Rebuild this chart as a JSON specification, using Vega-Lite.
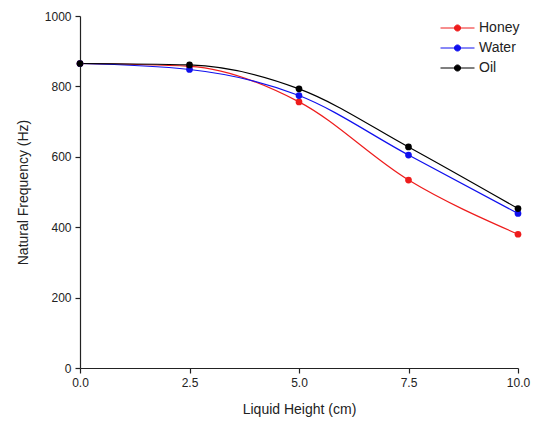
{
  "$schema": "https://vega.github.io/schema/vega-lite/v6.json",
  "width": 438,
  "height": 352,
  "autosize": {"type": "none"},
  "padding": {"left": 80, "top": 16, "right": 20, "bottom": 55},
  "background": "white",
  "config": {
    "view": {"stroke": null},
    "font": "Liberation Sans",
    "axis": {
      "grid": false,
      "domainColor": "#222",
      "tickColor": "#222",
      "labelColor": "#222",
      "titleColor": "#222",
      "labelFont": "Liberation Sans",
      "titleFont": "Liberation Sans",
      "labelFontSize": 12,
      "titleFontSize": 14,
      "titleFontWeight": "normal",
      "tickSize": 5,
      "domainWidth": 1.2,
      "tickWidth": 1.2,
      "labelFlush": false,
      "labelOverlap": false
    }
  },
  "data": {
    "values": [
      {"h": 0.0, "f": 865, "liquid": "Honey"},
      {"h": 2.5, "f": 857, "liquid": "Honey"},
      {"h": 5.0, "f": 756, "liquid": "Honey"},
      {"h": 7.5, "f": 534, "liquid": "Honey"},
      {"h": 10.0, "f": 380, "liquid": "Honey"},
      {"h": 0.0, "f": 865, "liquid": "Water"},
      {"h": 2.5, "f": 848, "liquid": "Water"},
      {"h": 5.0, "f": 774, "liquid": "Water"},
      {"h": 7.5, "f": 605, "liquid": "Water"},
      {"h": 10.0, "f": 439, "liquid": "Water"},
      {"h": 0.0, "f": 865, "liquid": "Oil"},
      {"h": 2.5, "f": 861, "liquid": "Oil"},
      {"h": 5.0, "f": 793, "liquid": "Oil"},
      {"h": 7.5, "f": 628, "liquid": "Oil"},
      {"h": 10.0, "f": 453, "liquid": "Oil"}
    ]
  },
  "encoding": {
    "x": {
      "field": "h", "type": "quantitative",
      "scale": {"domain": [0, 10], "nice": false, "zero": false},
      "axis": {"values": [0, 2.5, 5, 7.5, 10], "format": ".1f", "title": "Liquid Height (cm)", "titlePadding": 14, "labelPadding": 4}
    },
    "y": {
      "field": "f", "type": "quantitative",
      "scale": {"domain": [0, 1000], "nice": false},
      "axis": {"values": [0, 200, 400, 600, 800, 1000], "format": "d", "title": "Natural Frequency (Hz)", "titlePadding": 14, "labelPadding": 4}
    },
    "color": {
      "field": "liquid", "type": "nominal",
      "scale": {"domain": ["Honey", "Water", "Oil"], "range": ["#ee1c1c", "#1010ee", "#000000"]},
      "legend": {
        "title": null,
        "orient": "none",
        "legendX": 360,
        "legendY": 2,
        "symbolType": "M-1,0H1M-0.18,0A0.18,0.18 0 1,0 0.18,0A0.18,0.18 0 1,0 -0.18,0Z",
        "symbolSize": 1156,
        "symbolStrokeWidth": 1,
        "labelFontSize": 14,
        "labelColor": "#222",
        "labelOffset": 4,
        "clipHeight": 20,
        "rowPadding": 0
      }
    }
  },
  "layer": [
    {"mark": {"type": "line", "interpolate": "monotone", "strokeWidth": 1.2}},
    {"mark": {"type": "point", "filled": true, "opacity": 1, "size": 45}}
  ]
}
